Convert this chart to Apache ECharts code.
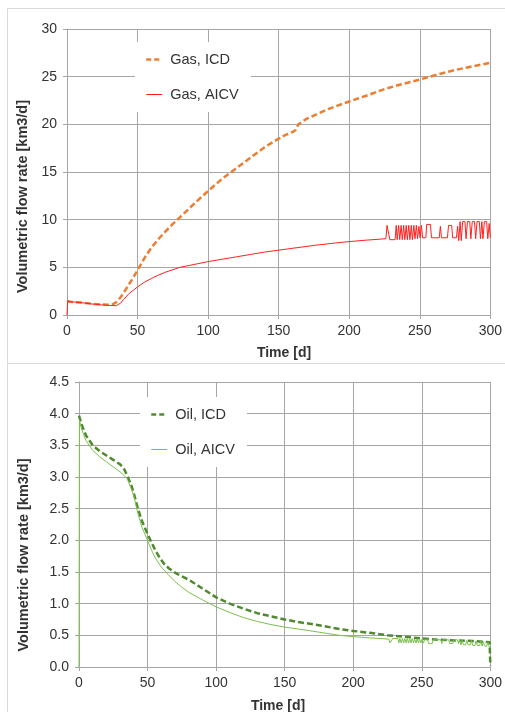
<!DOCTYPE html>
<html>
<head>
<meta charset="utf-8">
<script src="https://cdn.jsdelivr.net/npm/echarts@6/dist/echarts.min.js"></script>
<style>
html,body{margin:0;padding:0;background:#fff;}
#c{width:505px;height:712px;}
</style>
</head>
<body>
<div id="c"></div>
<script>
// ---- Data (time [d], rate [km3/d]) ----
var xTicks = [0, 50, 100, 150, 200, 250, 300];
var gasTicks = [0, 5, 10, 15, 20, 25, 30];
var oilTicks = [0, 0.5, 1.0, 1.5, 2.0, 2.5, 3.0, 3.5, 4.0, 4.5];

var gasIcd = [[0,1.45],[2,1.4],[5,1.36],[10,1.3],[15,1.22],[20,1.15],[25,1.1],[30,1.08],[32,1.1],[35,1.35],[38,1.85],[40,2.3],[43,3.0],[46,3.7],[50,4.7],[55,6.0],[60,7.1],[65,8.0],[70,8.8],[75,9.55],[80,10.25],[85,10.95],[90,11.65],[95,12.35],[100,13.0],[110,14.3],[120,15.4],[130,16.5],[140,17.6],[150,18.5],[155,18.9],[160,19.2],[162,19.4],[164,20.0],[166,20.2],[170,20.6],[176,21.0],[185,21.6],[200,22.4],[212,23.0],[225,23.7],[237,24.2],[250,24.7],[262,25.2],[275,25.7],[288,26.1],[300,26.45]];

var gasAicv = [[0,0],[0.5,1.5],[2,1.42],[5,1.36],[10,1.3],[15,1.2],[20,1.12],[25,1.05],[30,1.0],[35,0.98],[38,1.25],[40,1.6],[44,2.25],[47,2.6],[50,2.95],[55,3.45],[60,3.85],[65,4.2],[70,4.5],[75,4.75],[80,5.0],[90,5.3],[100,5.6],[110,5.85],[120,6.1],[130,6.35],[140,6.6],[150,6.8],[160,7.0],[175,7.3],[190,7.55],[200,7.7],[212,7.85],[226,8.0],
 [226.8,9.4],[228,9.4],[228.8,7.9],[232.5,7.9],[233.3,9.4],[234,7.9],[235,9.4],[235.8,7.9],[236.8,9.4],[237.6,7.9],[238.6,9.4],[239.4,7.9],[240.4,9.4],[241.2,7.9],[242.2,9.4],[243,7.9],[244,9.4],[244.8,7.9],[245.8,9.4],[246.6,8.0],[247.6,9.4],[248.4,8.0],[249.4,9.3],[250.2,8.1],[251.2,9.4],[252,8.1],[254.3,8.1],[254.9,9.5],[257.6,9.5],[258.3,8.1],[263.8,8.1],[264.6,9.3],[265.4,8.1],[269.6,8.1],[270.4,9.4],[272.6,9.4],[273.3,8.1],[276,8.1],[276.8,9.3],[277.6,7.8],[278.6,9.8],[279.4,7.8],[280.4,9.8],[282,9.8],[282.8,8.0],[283.8,9.8],[285.4,9.8],[286.2,8.0],[287.2,9.8],[288.8,9.8],[289.6,8.0],[290.6,9.8],[292.2,9.8],[293,8.0],[294,9.8],[294.8,8.0],[295.8,9.8],[297.4,9.8],[298.2,8.0],[299.2,9.6],[300,8.1]];

var oilIcd = [[0,3.97],[2,3.82],[5,3.66],[10,3.5],[15,3.41],[20,3.34],[25,3.27],[30,3.2],[33,3.12],[35,3.03],[38,2.88],[40,2.74],[43,2.5],[46,2.3],[50,2.1],[53,1.96],[56,1.83],[59,1.72],[62,1.63],[66,1.55],[70,1.49],[75,1.43],[80,1.38],[90,1.24],[100,1.1],[110,1.0],[120,0.92],[130,0.85],[140,0.8],[150,0.75],[160,0.71],[175,0.66],[190,0.6],[200,0.57],[212,0.54],[225,0.5],[237,0.48],[250,0.45],[262,0.43],[275,0.42],[287,0.41],[299.5,0.39],[300,0.02]];

var oilAicv = [[0,0],[0.3,3.9],[2,3.75],[5,3.58],[10,3.42],[15,3.32],[20,3.24],[25,3.16],[30,3.08],[33,3.02],[35,2.98],[38,2.82],[40,2.7],[43,2.42],[46,2.2],[50,2.0],[53,1.84],[56,1.71],[60,1.58],[65,1.46],[70,1.35],[75,1.26],[80,1.18],[90,1.06],[100,0.95],[110,0.86],[120,0.78],[130,0.72],[140,0.67],[150,0.63],[160,0.6],[175,0.55],[190,0.5],[200,0.48],[212,0.46],[226,0.44],
 [226.8,0.38],[228,0.38],[228.8,0.45],[232.5,0.45],[233.3,0.38],[234,0.45],[235,0.38],[235.8,0.45],[236.8,0.38],[237.6,0.45],[238.6,0.38],[239.4,0.45],[240.4,0.38],[241.2,0.45],[242.2,0.38],[243,0.45],[244,0.38],[244.8,0.44],[245.8,0.38],[246.6,0.44],[247.6,0.38],[248.4,0.44],[249.4,0.38],[250.2,0.44],[251.2,0.38],[252,0.43],[254.3,0.43],[254.9,0.37],[257.6,0.37],[258.3,0.43],[263.8,0.43],[264.6,0.37],[265.4,0.43],[269.6,0.43],[270.4,0.37],[272.6,0.37],[273.3,0.43],[276,0.43],[276.8,0.37],[277.6,0.43],[278.6,0.35],[279.4,0.42],[280.4,0.35],[282,0.35],[282.8,0.42],[283.8,0.35],[285.4,0.35],[286.2,0.42],[287.2,0.34],[288.8,0.34],[289.6,0.41],[290.6,0.34],[292.2,0.34],[293,0.41],[294,0.33],[294.8,0.4],[295.8,0.33],[297.4,0.33],[298.2,0.39],[299.2,0.32],[300,0.3]];

// ---- Styling ----
var gridColor = '#a6a6a6';
var labelColor = '#333333';
var fontFam = '"Liberation Sans", Arial, sans-serif';
var colGasIcd = '#ED7D31', colGasAicv = '#FF2020', colOilIcd = '#4F8A2E', colOilAicv = '#7CBF4E';

function xAxisCfg(gridIndex){
  return {
    type:'value', gridIndex:gridIndex, min:xTicks[0], max:xTicks[xTicks.length-1], interval:xTicks[1]-xTicks[0],
    axisLine:{show:true, lineStyle:{color:gridColor, width:1}},
    axisTick:{show:true, length:4, lineStyle:{color:gridColor}},
    splitLine:{show:true, lineStyle:{color:gridColor, width:1}},
    axisLabel:{color:labelColor, fontSize:14, fontFamily:fontFam, margin:9}
  };
}
function yAxisCfg(gridIndex, ticks, dec){
  return {
    type:'value', gridIndex:gridIndex, min:ticks[0], max:ticks[ticks.length-1], interval:ticks[1]-ticks[0],
    axisLine:{show:true, lineStyle:{color:gridColor, width:1}},
    axisTick:{show:true, length:4, lineStyle:{color:gridColor}},
    splitLine:{show:true, lineStyle:{color:gridColor, width:1}},
    axisLabel:{color:labelColor, fontSize:14, fontFamily:fontFam, margin:10,
      formatter:function(v){ return dec ? v.toFixed(dec) : String(v); }}
  };
}
function legendCfg(items, left, top){
  return {data:items, orient:'vertical', left:left, top:top, itemGap:20, itemWidth:16, itemHeight:14,
    padding:[10,12,10,10], backgroundColor:'#ffffff',
    itemStyle:{opacity:0},
    textStyle:{fontSize:14.5, color:labelColor, fontFamily:fontFam, padding:[0,0,0,3]}};
}

var chart = echarts.init(document.getElementById('c'), null, {renderer:'canvas'});
chart.setOption({
  animation:false,
  backgroundColor:'#ffffff',
  grid:[
    {left:67, right:13, top:29, height:286},
    {left:79, right:13, top:382, height:285}
  ],
  xAxis:[xAxisCfg(0), xAxisCfg(1)],
  yAxis:[yAxisCfg(0, gasTicks, 0), yAxisCfg(1, oilTicks, 1)],
  legend:[
    legendCfg([
      {name:'Gas, ICD', lineStyle:{color:colGasIcd, width:2.5, type:[5,3]}},
      {name:'Gas, AICV', lineStyle:{color:colGasAicv, width:1, type:'solid'}}
    ], 135, 42),
    legendCfg([
      {name:'Oil, ICD', lineStyle:{color:colOilIcd, width:2.5, type:[5,3]}},
      {name:'Oil, AICV', lineStyle:{color:colOilAicv, width:1, type:'solid'}}
    ], 140, 397)
  ],
  series:[
    {name:'Gas, ICD', type:'line', xAxisIndex:0, yAxisIndex:0, data:gasIcd, showSymbol:false, symbol:'none',
     lineStyle:{color:colGasIcd, width:2.5, type:[6,3]}, itemStyle:{color:colGasIcd}, z:3},
    {name:'Gas, AICV', type:'line', xAxisIndex:0, yAxisIndex:0, data:gasAicv, showSymbol:false, symbol:'none',
     lineStyle:{color:colGasAicv, width:1}, itemStyle:{color:colGasAicv}, z:4},
    {name:'Oil, ICD', type:'line', xAxisIndex:1, yAxisIndex:1, data:oilIcd, showSymbol:false, symbol:'none',
     lineStyle:{color:colOilIcd, width:2.5, type:[6,3]}, itemStyle:{color:colOilIcd}, z:3},
    {name:'Oil, AICV', type:'line', xAxisIndex:1, yAxisIndex:1, data:oilAicv, showSymbol:false, symbol:'none',
     lineStyle:{color:colOilAicv, width:1}, itemStyle:{color:colOilAicv}, z:4}
  ],
  graphic:[
    {type:'line', shape:{x1:7.5, y1:8.5, x2:505, y2:8.5}, style:{stroke:'#d9d9d9', lineWidth:1}, silent:true},
    {type:'line', shape:{x1:7.5, y1:8.5, x2:7.5, y2:712}, style:{stroke:'#d9d9d9', lineWidth:1}, silent:true},
    {type:'line', shape:{x1:7.5, y1:363.5, x2:505, y2:363.5}, style:{stroke:'#d9d9d9', lineWidth:1}, silent:true},
    {type:'text', x:22.5, y:196.5, rotation:Math.PI/2,
     style:{text:'Volumetric flow rate [km3/d]', font:'bold 14.5px "Liberation Sans", Arial, sans-serif', fill:labelColor, align:'center', verticalAlign:'middle'}},
    {type:'text', x:24, y:555, rotation:Math.PI/2,
     style:{text:'Volumetric flow rate [km3/d]', font:'bold 14.5px "Liberation Sans", Arial, sans-serif', fill:labelColor, align:'center', verticalAlign:'middle'}},
    {type:'text', x:284, y:353.5,
     style:{text:'Time [d]', font:'bold 14px "Liberation Sans", Arial, sans-serif', fill:labelColor, align:'center', verticalAlign:'middle'}},
    {type:'text', x:278, y:706.5,
     style:{text:'Time [d]', font:'bold 14px "Liberation Sans", Arial, sans-serif', fill:labelColor, align:'center', verticalAlign:'middle'}}
  ]
});
</script>
</body>
</html>
